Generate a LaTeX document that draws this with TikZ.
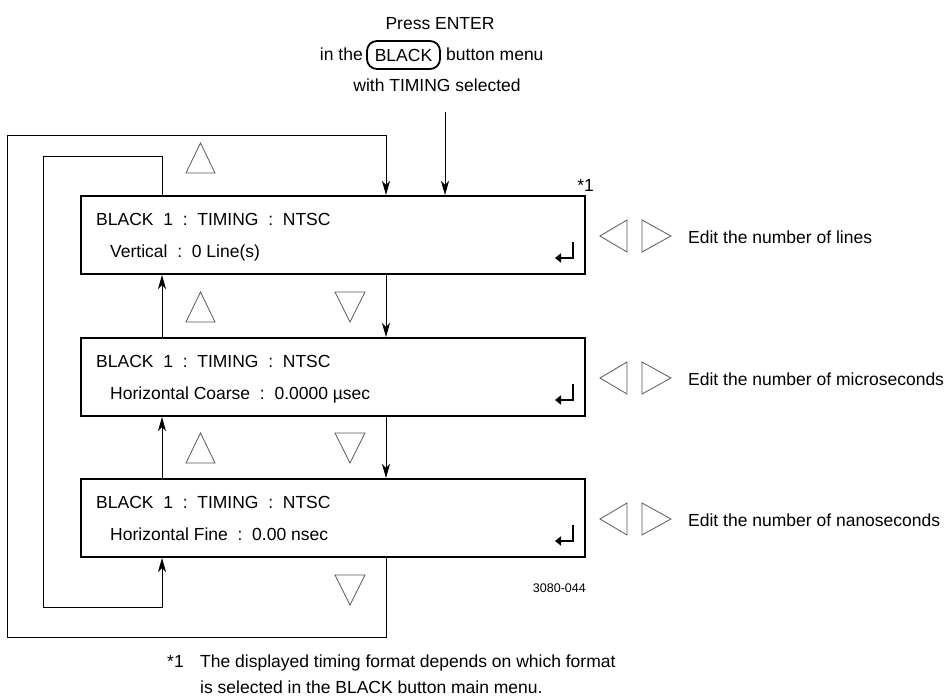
\documentclass[tikz,border=0pt]{standalone}
\usepackage{fontspec}
\setmainfont{Liberation Sans}
\usetikzlibrary{arrows.meta}

\begin{document}
\begin{tikzpicture}[x=1pt, y=-1pt,
  every node/.style={inner sep=0pt, font=\fontsize{17.5}{21}\selectfont},
  menubox/.style={draw, line width=2pt, minimum width=504pt, minimum height=78pt},
  link/.style={line width=1pt, -{Stealth[length=14pt,width=8pt,inset=4pt]}},
  knob/.style={draw=black!65, line width=0.8pt, line join=miter},
  enter/.style={line width=2.4pt, -{Triangle[length=6pt,width=9pt]}}]
  \useasboundingbox (0,0) rectangle (946,700);
  % the three menu screens
  \node[menubox] (box1) at (333,235) {};
  \node[menubox] (box2) at (333,377) {};
  \node[menubox] (box3) at (333,518) {};
  \node[anchor=base west] (title1) at (96,226) {BLACK\ \ 1\ \ :\ \ TIMING\ \ :\ \ NTSC};
  \node[anchor=base west] (value1) at (110,258) {Vertical\ \ :\ \ 0 Line(s)};
  \node[anchor=base west] (title2) at (96,368) {BLACK\ \ 1\ \ :\ \ TIMING\ \ :\ \ NTSC};
  \node[anchor=base west] (value2) at (110,400) {Horizontal Coarse\ \ :\ \ 0.0000 µsec};
  \node[anchor=base west] (title3) at (96,509) {BLACK\ \ 1\ \ :\ \ TIMING\ \ :\ \ NTSC};
  \node[anchor=base west] (value3) at (110,541) {Horizontal Fine\ \ :\ \ 0.00 nsec};
  \draw[enter] ([shift={(-13,-33)}]box1.south east) -- ([shift={(-13,-17)}]box1.south east) -- ([shift={(-31,-17)}]box1.south east);
  \draw[enter] ([shift={(-13,-33)}]box2.south east) -- ([shift={(-13,-17)}]box2.south east) -- ([shift={(-31,-17)}]box2.south east);
  \draw[enter] ([shift={(-13,-33)}]box3.south east) -- ([shift={(-13,-17)}]box3.south east) -- ([shift={(-31,-17)}]box3.south east);
  \node[anchor=base east] (note) at (594,192) {*1};
  \node[anchor=base east, font=\fontsize{12.5}{15}\selectfont] (figno) at (586,593) {3080-044};

  % heading
  \node[anchor=base] (press) at (440,30) {Press ENTER};
  \node[draw, rounded corners=10pt, line width=1.8pt, minimum width=73pt, minimum height=28pt] (blackkey) at (403.5,55) {BLACK};
  \node[anchor=base east] (inthe) at (363,61) {in the};
  \node[anchor=base west] (menu) at (446,61) {button menu};
  \node[anchor=base] (timing) at (437,92) {with TIMING selected};

  % connectors
  \coordinate (rx) at (386,0);
  \coordinate (lx) at (162,0);
  \coordinate (entry) at (445,112);
  \coordinate (outerBL) at (7,637);
  \coordinate (outerTL) at (7,136);
  \coordinate (innerBL) at (43,607);
  \coordinate (innerTL) at (43,157);
  \draw[link] (entry) -- (entry |- box1.north);
  \draw[link] (box1.south -| rx) -- (box2.north -| rx);
  \draw[link] (box2.south -| rx) -- (box3.north -| rx);
  \draw[link] (box2.north -| lx) -- (box1.south -| lx);
  \draw[link] (box3.north -| lx) -- (box2.south -| lx);
  \draw[link] (box3.south -| rx) |- (outerBL) -- (outerTL) -| (box1.north -| rx);
  \draw[link] (box1.north -| lx) |- (innerTL) -- (innerBL) -| (box3.south -| lx);

  % up and down keys
  \draw[knob] (186,173) -- (200.5,143) -- (215,173) -- cycle;
  \draw[knob] (186,322) -- (200.5,292) -- (215,322) -- cycle;
  \draw[knob] (186,463) -- (200.5,433) -- (215,463) -- cycle;
  \draw[knob] (335,292) -- (365,292) -- (350,322) -- cycle;
  \draw[knob] (335,433) -- (365,433) -- (350,463) -- cycle;
  \draw[knob] (335,575) -- (365,575) -- (350,605) -- cycle;

  % left and right keys
  \draw[knob] (627,220) -- (600,236) -- (627,252) -- cycle;
  \draw[knob] (642,220) -- (671,236) -- (642,252) -- cycle;
  \draw[knob] (627,362) -- (600,378) -- (627,394) -- cycle;
  \draw[knob] (642,362) -- (671,378) -- (642,394) -- cycle;
  \draw[knob] (627,503) -- (600,519) -- (627,535) -- cycle;
  \draw[knob] (642,503) -- (671,519) -- (642,535) -- cycle;
  \node[anchor=west] (lines) at (688,237) {Edit the number of lines};
  \node[anchor=west] (micro) at (688,379) {Edit the number of microseconds};
  \node[anchor=west] (nano) at (688,520) {Edit the number of nanoseconds};

  % footnote
  \node[anchor=base west] (fnmark) at (167,667) {*1};
  \node[anchor=base west] (fnline1) at (200,667) {The displayed timing format depends on which format};
  \node[anchor=base west] (fnline2) at (200,693) {is selected in the BLACK button main menu.};
\end{tikzpicture}
\end{document}
